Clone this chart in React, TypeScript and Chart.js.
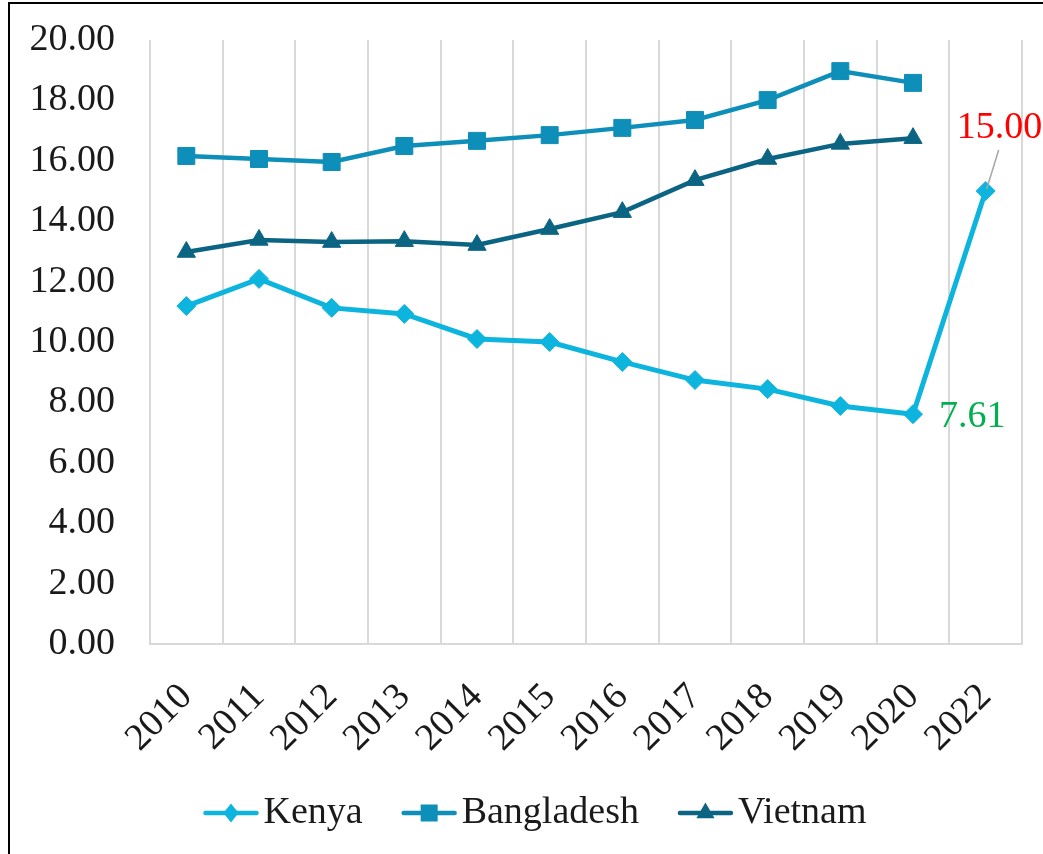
import React, { useEffect, useRef } from 'react';
import { Chart, registerables } from 'chart.js';

Chart.register(...registerables);

const FONT = "'Liberation Serif', 'Times New Roman', serif";

const years = ['2010', '2011', '2012', '2013', '2014', '2015', '2016', '2017', '2018', '2019', '2020', '2022'];
const kenya = [11.19, 12.09, 11.13, 10.93, 10.1, 10.0, 9.34, 8.74, 8.44, 7.88, 7.61, 15.0];
const bangladesh = [16.16, 16.06, 15.96, 16.49, 16.66, 16.85, 17.09, 17.35, 18.01, 18.97, 18.58, null];
const vietnam = [12.98, 13.38, 13.31, 13.34, 13.21, 13.74, 14.3, 15.36, 16.06, 16.56, 16.75, null];
const seriesNames = ['Kenya', 'Bangladesh', 'Vietnam'];
const seriesColors = ['#0DB5DE', '#0E8FB9', '#0A6482'];
const seriesStyles = ['rectRot', 'rect', 'triangle'];
const yMin = 0;
const yMax = 20;
const yStep = 2;

function drawMarker(ctx: CanvasRenderingContext2D, style: string, x: number, y: number, color: string) {
  ctx.save();
  ctx.fillStyle = color;
  ctx.beginPath();
  if (style === 'rectRot') {
    const r = 9.5;
    ctx.moveTo(x, y - r);
    ctx.lineTo(x + r * 0.8, y);
    ctx.lineTo(x, y + r);
    ctx.lineTo(x - r * 0.8, y);
  } else if (style === 'rect') {
    const s = 8.5;
    ctx.rect(x - s, y - s, 2 * s, 2 * s);
  } else {
    const r = 10.5;
    ctx.moveTo(x, y - r);
    ctx.lineTo(x + r * 0.866, y + r * 0.5);
    ctx.lineTo(x - r * 0.866, y + r * 0.5);
  }
  ctx.closePath();
  ctx.fill();
  ctx.restore();
}

const labelsPlugin = {
  id: 'pointLabels',
  afterDatasetsDraw(chart: any) {
    const ctx: CanvasRenderingContext2D = chart.ctx;
    const meta = chart.getDatasetMeta(0);
    const p = meta.data[10];
    const q = meta.data[11];
    ctx.save();
    ctx.font = `38px ${FONT}`;
    ctx.textBaseline = 'alphabetic';
    ctx.textAlign = 'left';
    ctx.fillStyle = '#00B050';
    ctx.fillText(kenya[10].toFixed(2), p.x + 26, p.y + 13);
    ctx.strokeStyle = '#A6A6A6';
    ctx.lineWidth = 1.5;
    ctx.beginPath();
    ctx.moveTo(q.x + 13, q.y - 41);
    ctx.lineTo(q.x + 1, q.y - 2);
    ctx.stroke();
    ctx.fillStyle = '#FF0000';
    ctx.fillText(kenya[11].toFixed(2), q.x - 29, q.y - 53);
    ctx.restore();
  },
};

const legendPlugin = {
  id: 'customLegend',
  afterDraw(chart: any) {
    const ctx: CanvasRenderingContext2D = chart.ctx;
    ctx.save();
    ctx.font = `38px ${FONT}`;
    const lineLen = 55;
    const gapText = 5;
    const gapItem = 39;
    const widths = seriesNames.map((n) => ctx.measureText(n).width);
    let total = 0;
    widths.forEach((w, i) => {
      total += lineLen + gapText + w + (i < widths.length - 1 ? gapItem : 0);
    });
    let x = 525 - total / 2;
    const y = 809;
    seriesNames.forEach((name, i) => {
      ctx.strokeStyle = seriesColors[i];
      ctx.lineWidth = 4.5;
      ctx.lineCap = 'round';
      ctx.beginPath();
      ctx.moveTo(x + 2, y);
      ctx.lineTo(x + lineLen - 2, y);
      ctx.stroke();
      drawMarker(ctx, seriesStyles[i], x + lineLen / 2, y, seriesColors[i]);
      ctx.fillStyle = '#1a1a1a';
      ctx.textBaseline = 'middle';
      ctx.textAlign = 'left';
      ctx.fillText(name, x + lineLen + gapText, y);
      x += lineLen + gapText + widths[i] + gapItem;
    });
    ctx.restore();
  },
};

export default function App() {
  const ref = useRef<HTMLCanvasElement | null>(null);

  useEffect(() => {
    if (!ref.current) return;
    const seriesData = [kenya, bangladesh, vietnam];
    const chart = new Chart(ref.current, {
      type: 'line',
      data: {
        labels: years,
        datasets: seriesNames.map((name, i) => ({
          label: name,
          data: seriesData[i],
          borderColor: seriesColors[i],
          backgroundColor: seriesColors[i],
          borderWidth: i === 0 ? 5 : 4.5,
          pointStyle: seriesStyles[i] as any,
          pointRadius: i === 0 ? 9.5 : i === 1 ? 12 : 10.5,
          pointBorderWidth: 1,
          pointBackgroundColor: seriesColors[i],
          pointBorderColor: seriesColors[i],
          tension: 0,
          fill: false,
        })),
      },
      options: {
        responsive: false,
        animation: false,
        layout: { padding: { top: 36, right: 21, left: 0, bottom: 60 } },
        plugins: {
          legend: { display: false },
          tooltip: { enabled: false },
        },
        scales: {
          x: {
            offset: true,
            grid: { display: true, offset: true, color: '#D9D9D9', lineWidth: 2, drawTicks: false },
            border: { display: true, color: '#D9D9D9', width: 2 },
            ticks: {
              font: { family: FONT, size: 38 },
              color: '#1a1a1a',
              maxRotation: 45,
              minRotation: 45,
              padding: 31,
              autoSkip: false,
            },
            afterFit: (scale: any) => {
              scale.height = 150;
              scale.paddingLeft = 0;
              scale.paddingRight = 0;
              scale.paddingTop = 0;
              scale.paddingBottom = 0;
            },
          },
          y: {
            min: yMin,
            max: yMax,
            grid: { display: false, drawTicks: false },
            border: { display: false },
            ticks: {
              stepSize: yStep,
              font: { family: FONT, size: 38 },
              color: '#1a1a1a',
              padding: 35,
              callback: (v: any) => Number(v).toFixed(2),
            },
            afterFit: (scale: any) => {
              scale.width = 140;
              scale.paddingLeft = 0;
              scale.paddingRight = 0;
              scale.paddingTop = 0;
              scale.paddingBottom = 0;
            },
          },
        },
      },
      plugins: [labelsPlugin, legendPlugin],
    });
    return () => chart.destroy();
  }, []);

  return (
    <div
      style={{
        position: 'fixed',
        left: 8,
        top: 2,
        borderTop: '2px solid #000',
        borderLeft: '2px solid #000',
        background: '#fff',
      }}
    >
      <canvas ref={ref} width={1033} height={850} style={{ display: 'block', width: 1033, height: 850 }} />
    </div>
  );
}
